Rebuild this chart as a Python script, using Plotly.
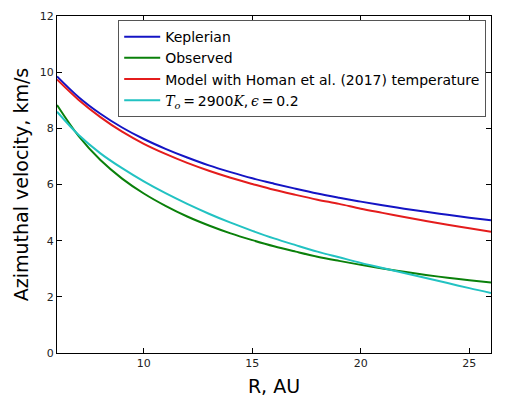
import plotly.graph_objects as go

R = [6, 7, 8, 9, 10, 11, 12, 13, 14, 15, 16, 17, 18, 19, 20, 21, 22, 23, 24, 25, 26]
keplerian = [9.85, 9.11, 8.52, 8.03, 7.62, 7.27, 6.96, 6.68, 6.44, 6.22, 6.03,
             5.85, 5.68, 5.53, 5.39, 5.26, 5.14, 5.03, 4.92, 4.82, 4.73]
observed = [8.83, 7.72, 6.87, 6.21, 5.68, 5.24, 4.86, 4.54, 4.26, 4.02, 3.80,
            3.61, 3.43, 3.28, 3.14, 3.01, 2.89, 2.78, 2.68, 2.59, 2.51]
model_homan = [9.74, 9.01, 8.40, 7.88, 7.45, 7.09, 6.77, 6.49, 6.24, 6.02, 5.81,
               5.63, 5.46, 5.31, 5.14, 4.99, 4.84, 4.70, 4.57, 4.44, 4.32]
model_t2900 = [8.59, 7.76, 7.11, 6.58, 6.11, 5.69, 5.31, 4.96, 4.64, 4.35, 4.08,
               3.84, 3.61, 3.41, 3.21, 3.03, 2.85, 2.67, 2.49, 2.31, 2.14]

x_ticks = [10, 15, 20, 25]
y_ticks = [0, 2, 4, 6, 8, 10, 12]

SERIF = "font-family:'DejaVu Serif',serif;font-style:italic"
t_label = (f"<span style=\"{SERIF}\">T<sub>o</sub></span>\u2009=\u20092900"
           f"<span style=\"{SERIF}\">K</span>,\u2009"
           f"<span style=\"{SERIF}\">\u03f5</span>\u2009=\u20090.2")

series = [
    ("Keplerian", keplerian, "#1414c4"),
    ("Observed", observed, "#0a800a"),
    ("Model with Homan et al. (2017) temperature", model_homan, "#e41c1c"),
    (t_label, model_t2900, "#22c2c2"),
]

fig = go.Figure()
for name, vals, col in series:
    fig.add_trace(go.Scatter(x=R, y=vals, mode="lines", name=name,
                             line=dict(color=col, width=2, shape="spline")))

axis_common = dict(showline=True, linecolor="black", linewidth=1, mirror="ticks",
                   ticks="inside", ticklen=5, tickcolor="black", showgrid=False,
                   zeroline=False, automargin=False,
                   tickfont=dict(family="DejaVu Sans", size=11, color="#222"))

fig.update_layout(
    width=513, height=397,
    margin=dict(l=57, r=22, t=16, b=44),
    paper_bgcolor="white", plot_bgcolor="white",
    font=dict(family="DejaVu Sans", color="black"),
    xaxis=dict(range=[6, 26], tickvals=x_ticks,
               title=dict(text="R, AU", font=dict(size=19), standoff=10), **axis_common),
    yaxis=dict(range=[0, 12], tickvals=y_ticks,
               title=dict(text="Azimuthal velocity, km/s", font=dict(size=19), standoff=6),
               **axis_common),
    legend=dict(x=0.141, y=0.988, xanchor="left", yanchor="top",
                bgcolor="white", bordercolor="#555", borderwidth=1,
                font=dict(family="DejaVu Sans", size=14, color="black"),
                tracegroupgap=0, itemwidth=36),
    showlegend=True,
)

fig.write_html("out.html", config={"displayModeBar": False},
               post_script="document.body.style.margin='0';")
